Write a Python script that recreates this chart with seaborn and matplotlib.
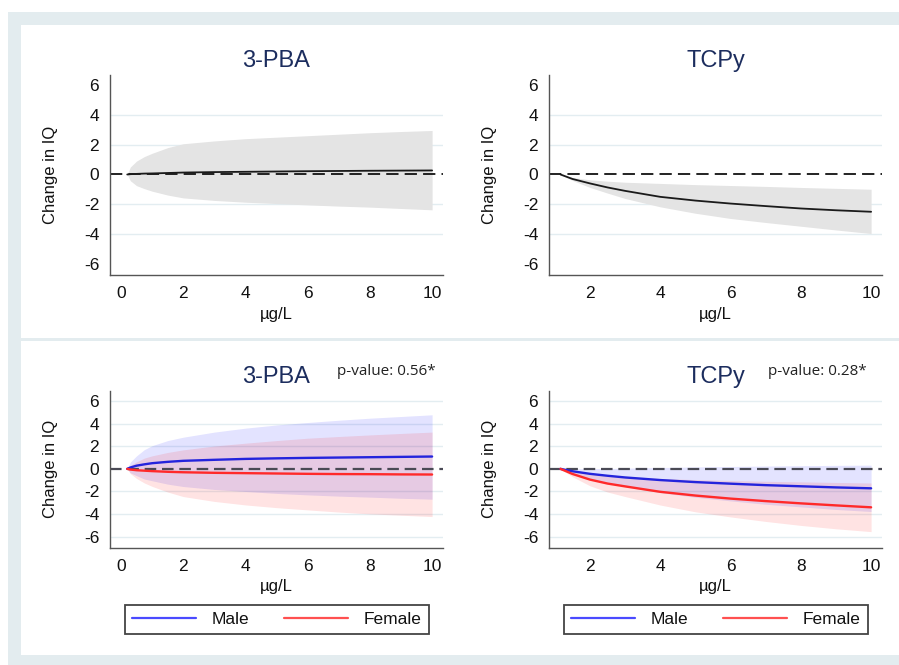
import numpy as np
import pandas as pd
import matplotlib
matplotlib.use("Agg")
import matplotlib.pyplot as plt
from matplotlib.patches import Rectangle
from matplotlib.lines import Line2D
import seaborn as sns

# ---------------- data ----------------
pba_x = [0.2, 0.3, 0.5, 0.75, 1, 1.5, 2, 3, 4, 5, 6, 7, 8, 9, 10]
pba_est = [0, 0.02, 0.04, 0.06, 0.07, 0.1, 0.13, 0.16, 0.18, 0.2, 0.22, 0.235, 0.25, 0.26, 0.27]
pba_hi = [0, 0.5, 0.9, 1.2, 1.42, 1.8, 2.06, 2.25, 2.4, 2.5, 2.6, 2.7, 2.8, 2.88, 2.95]
pba_lo = [0, -0.42, -0.75, -0.95, -1.12, -1.38, -1.57, -1.74, -1.86, -1.95, -2.04, -2.12, -2.19, -2.28, -2.37]

tcpy_x = [1.16, 1.5, 2, 2.5, 3, 4, 5, 6, 7, 8, 9, 10]
tcpy_est = [0, -0.3, -0.6, -0.87, -1.1, -1.5, -1.75, -1.95, -2.12, -2.28, -2.4, -2.5]
tcpy_hi = [0, -0.2, -0.36, -0.45, -0.52, -0.6, -0.68, -0.74, -0.8, -0.87, -0.93, -0.99]
tcpy_lo = [0, -0.4, -0.87, -1.25, -1.61, -2.17, -2.6, -2.95, -3.22, -3.47, -3.72, -3.96]

sex_pba_x = [0.2, 0.3, 0.5, 0.75, 1, 1.5, 2, 3, 4, 5, 6, 7, 8, 9, 10]
male_pba_est = [0, 0.12, 0.28, 0.4, 0.5, 0.62, 0.71, 0.8, 0.88, 0.93, 0.97, 1.0, 1.03, 1.06, 1.09]
male_pba_hi = [0, 0.6, 1.15, 1.7, 2.05, 2.5, 2.8, 3.25, 3.6, 3.88, 4.1, 4.3, 4.48, 4.63, 4.78]
male_pba_lo = [0, -0.35, -0.6, -0.9, -1.05, -1.35, -1.56, -1.82, -2.0, -2.17, -2.3, -2.41, -2.5, -2.6, -2.68]
female_pba_est = [0, -0.06, -0.12, -0.16, -0.2, -0.26, -0.3, -0.35, -0.38, -0.41, -0.44, -0.46, -0.47, -0.49, -0.5]
female_pba_hi = [0, 0.3, 0.62, 0.95, 1.15, 1.45, 1.68, 2.02, 2.27, 2.5, 2.71, 2.86, 3.0, 3.13, 3.25]
female_pba_lo = [0, -0.42, -0.85, -1.25, -1.55, -2.05, -2.45, -2.88, -3.19, -3.43, -3.63, -3.82, -3.98, -4.1, -4.22]

sex_tcpy_x = [1.16, 1.5, 2, 2.5, 3, 4, 5, 6, 7, 8, 9, 10]
male_tcpy_est = [0, -0.21, -0.44, -0.61, -0.76, -0.99, -1.17, -1.31, -1.44, -1.54, -1.64, -1.72]
male_tcpy_hi = [0, 0.0, 0.02, 0.03, 0.06, 0.12, 0.17, 0.21, 0.25, 0.28, 0.31, 0.33]
male_tcpy_lo = [0, -0.42, -0.9, -1.25, -1.58, -2.1, -2.51, -2.83, -3.13, -3.36, -3.59, -3.77]
female_tcpy_est = [0, -0.45, -0.95, -1.3, -1.55, -2.03, -2.36, -2.63, -2.85, -3.05, -3.23, -3.4]
female_tcpy_hi = [0, -0.2, -0.45, -0.58, -0.7, -0.85, -0.95, -1.03, -1.1, -1.15, -1.2, -1.25]
female_tcpy_lo = [0, -0.7, -1.5, -2.05, -2.45, -3.2, -3.8, -4.25, -4.65, -5.0, -5.3, -5.55]

titles = ["3-PBA", "TCPy"]
pvalues = ["p-value: 0.56*", "p-value: 0.28*"]
y_ticks = [-6, -4, -2, 0, 2, 4, 6]
x_ticks_left = [0, 2, 4, 6, 8, 10]
x_ticks_right = [2, 4, 6, 8, 10]
sex_labels = ["Male", "Female"]

# ---------------- style ----------------
sns.set_theme(style="white")
plt.rcParams["font.family"] = ["Liberation Sans", "DejaVu Sans"]

W, H = 899, 665
fig = plt.figure(figsize=(W / 100, H / 100), dpi=100)
fig.patch.set_facecolor("white")

def fx(px):
    return px / W

def fy(py):
    return 1 - py / H

# background frame
fig.patches.append(Rectangle((fx(8), 0), 1 - fx(8), fy(12), transform=fig.transFigure,
                             facecolor="#e3ecef", edgecolor="none", zorder=-10))
fig.patches.append(Rectangle((fx(21), fy(338)), 1 - fx(21), fy(25) - fy(338), transform=fig.transFigure,
                             facecolor="white", edgecolor="none", zorder=-9))
fig.patches.append(Rectangle((fx(21), fy(655)), 1 - fx(21), fy(341) - fy(655), transform=fig.transFigure,
                             facecolor="white", edgecolor="none", zorder=-9))

NAVY = "#1c2d5e"
SPINE = "#555555"
GRID = "#e3edf1"
BLUE = "#2424dc"
RED = "#ff2a2a"
TXT = "#111111"

def make_ax(x0, x1, ytop, ybot, xlim, ylim, xticks, grid_vals):
    ax = fig.add_axes([fx(x0), fy(ybot), fx(x1) - fx(x0), fy(ytop) - fy(ybot)])
    ax.set_facecolor("none")
    ax.set_xlim(*xlim)
    ax.set_ylim(*ylim)
    ax.set_xticks(xticks)
    ax.set_yticks(y_ticks)
    ax.set_yticklabels([str(v) for v in y_ticks])
    for s in ["top", "right"]:
        ax.spines[s].set_visible(False)
    for s in ["left", "bottom"]:
        ax.spines[s].set_color(SPINE)
        ax.spines[s].set_linewidth(1.0)
    ax.tick_params(axis="both", direction="out", length=4.8, width=1.0, color=SPINE,
                   labelsize=12.5, pad=3.0, labelcolor=TXT)
    for g in grid_vals:
        ax.axhline(g, color=GRID, lw=1.0, zorder=0)
    return ax

top_ylim = (-6.74, 6.67)
bot_ylim = (-6.97, 6.91)
left_xlim = (-0.354, 10.35)
right_xlim = (0.833, 10.31)

ax1 = make_ax(110, 443, 75, 275, left_xlim, top_ylim, x_ticks_left, [-4, -2, 2, 4])
ax2 = make_ax(549, 882, 75, 275, right_xlim, top_ylim, x_ticks_right, [-4, -2, 2, 4])
ax3 = make_ax(110, 443, 390.7, 547.7, left_xlim, bot_ylim, x_ticks_left, [-6, -4, -2, 2, 4, 6])
ax4 = make_ax(549, 882, 390.7, 547.7, right_xlim, bot_ylim, x_ticks_right, [-6, -4, -2, 2, 4, 6])

def labels(ax, xl_y):
    ax.set_xlabel("µg/L", fontsize=12, color=TXT)
    ax.set_ylabel("Change in IQ", fontsize=12, color=TXT)
    ax.xaxis.set_label_coords(0.5, xl_y)
    ax.yaxis.set_label_coords(-0.155, 0.5)

# ---------------- top panels ----------------
for ax, xs, est, lo, hi, title in [
    (ax1, pba_x, pba_est, pba_lo, pba_hi, titles[0]),
    (ax2, tcpy_x, tcpy_est, tcpy_lo, tcpy_hi, titles[1]),
]:
    ax.fill_between(xs, lo, hi, color="#e4e4e4", lw=0, zorder=1)
    ax.axhline(0, color="#111111", lw=1.3, ls=(0, (6.8, 3.4)), zorder=2)
    df = pd.DataFrame({"x": xs, "y": est})
    sns.lineplot(data=df, x="x", y="y", ax=ax, color="#1a1a1a", lw=1.3, zorder=3)
    labels(ax, -0.16)
    ax.set_title(title, fontsize=17, color=NAVY, pad=5.7)

# ---------------- bottom panels (by sex) ----------------
for ax, xs, m_est, m_lo, m_hi, f_est, f_lo, f_hi, title in [
    (ax3, sex_pba_x, male_pba_est, male_pba_lo, male_pba_hi,
     female_pba_est, female_pba_lo, female_pba_hi, titles[0]),
    (ax4, sex_tcpy_x, male_tcpy_est, male_tcpy_lo, male_tcpy_hi,
     female_tcpy_est, female_tcpy_lo, female_tcpy_hi, titles[1]),
]:
    ax.fill_between(xs, m_lo, m_hi, color="#0000ff", alpha=0.11, lw=0, zorder=1)
    ax.fill_between(xs, f_lo, f_hi, color="#ff0000", alpha=0.11, lw=0, zorder=1)
    ax.axhline(0, color="#4a4a55", lw=1.6, ls=(0, (5.2, 2.6)), zorder=2)
    df = pd.DataFrame({
        "x": list(xs) + list(xs),
        "y": list(m_est) + list(f_est),
        "Sex": [sex_labels[0]] * len(xs) + [sex_labels[1]] * len(xs),
    })
    sns.lineplot(data=df, x="x", y="y", hue="Sex", ax=ax,
                 palette={sex_labels[0]: BLUE, sex_labels[1]: RED}, lw=1.7, zorder=3)
    labels(ax, -0.2)
    ax.set_title(title, fontsize=17, color=NAVY, pad=5.5)
    handles = [Line2D([], [], color="#4a4aff", lw=1.6), Line2D([], [], color="#ff5050", lw=1.6)]
    cx = 0.3077 if ax is ax3 else 0.7964
    leg = ax.legend(handles, sex_labels, loc="center", bbox_to_anchor=(cx, fy(619.5)),
                    bbox_transform=fig.transFigure, ncol=2, fontsize=12.5,
                    handlelength=3.7, handletextpad=0.9, columnspacing=2.0,
                    borderpad=0.4, frameon=True, fancybox=False, framealpha=1)
    leg.get_frame().set_edgecolor("#444444")
    leg.get_frame().set_linewidth(1.3)
    for t in leg.get_texts():
        t.set_color(TXT)

fig.text(fx(337), fy(372), pvalues[0], fontsize=11, family=["Open Sans", "DejaVu Sans"],
         ha="left", va="center", color="#222222")
fig.text(fx(768), fy(372), pvalues[1], fontsize=11, family=["Open Sans", "DejaVu Sans"],
         ha="left", va="center", color="#222222")

fig.savefig("out.png", dpi=100, facecolor=fig.get_facecolor())
